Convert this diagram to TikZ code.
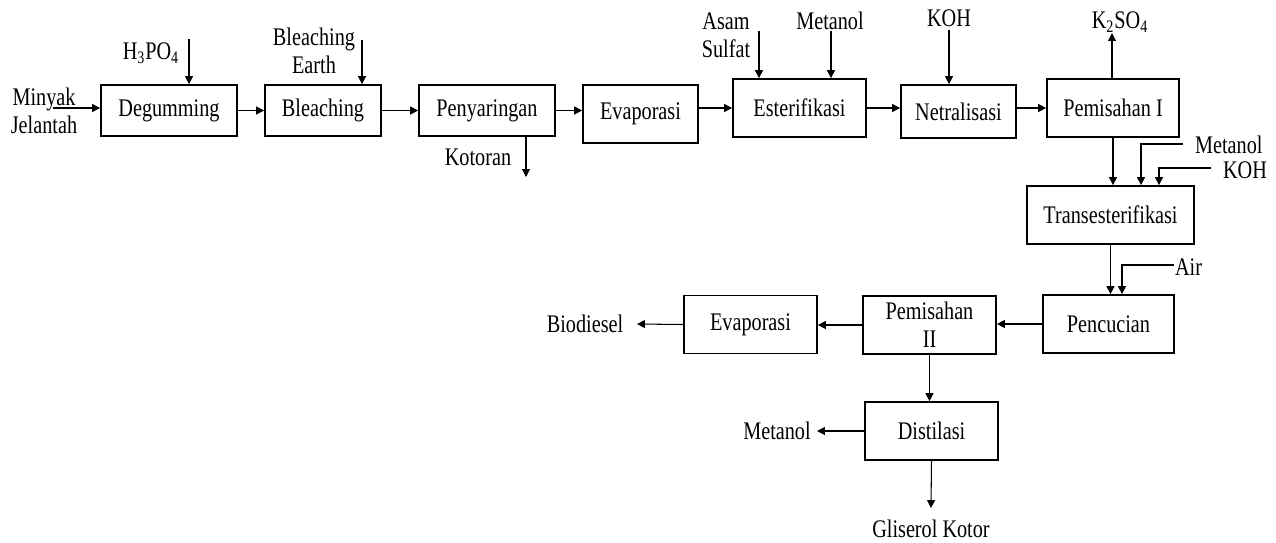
\documentclass[tikz,border=0pt]{standalone}
\usepackage{fontspec}
\setmainfont[FakeStretch=0.8]{Liberation Serif}
\usetikzlibrary{arrows.meta}

\begin{document}
\begin{tikzpicture}[x=0.02cm,y=-0.02cm,
        font=\fontsize{14.4}{16}\selectfont,
        unit/.style={draw,line width=1pt,inner sep=0pt,align=center,minimum height=1.16cm},
        txt/.style={align=center,inner sep=1pt},
        flow/.style={line width=0.6pt,-{Triangle[length=4.5pt,width=4.5pt]}}]
        \useasboundingbox (0,0) rectangle (1276,542);

        \node[unit,minimum width=2.72cm,minimum height=1.02cm] (deg)  at (169,110.5)  {Degumming};
        \node[unit,minimum width=2.32cm,minimum height=1.02cm] (bl)   at (323,110.5)  {Bleaching};
        \node[unit,minimum width=2.72cm,minimum height=1.02cm] (pen)  at (487,110.5)  {Penyaringan};
        \node[unit,minimum width=2.30cm] (eva1) at (640.5,114)  {Evaporasi};
        \node[unit,minimum width=2.66cm] (est)  at (799.5,108)  {Esterifikasi};
        \node[unit,minimum width=2.30cm,minimum height=1.06cm] (net)  at (958.5,111.5) {Netralisasi};
        \node[unit,minimum width=2.64cm] (pem1) at (1113,108)   {Pemisahan I};
        \node[unit,minimum width=3.34cm] (trans) at (1110.5,215) {Transesterifikasi};
        \node[unit,minimum width=2.62cm] (cuci) at (1108.5,324) {Pencucian};
        \node[unit,minimum width=2.66cm] (pem2) at (929.5,325)  {Pemisahan\\II};
        \node[unit,minimum width=2.66cm] (eva2) at (750.5,324.5) {Evaporasi};
        \node[unit,minimum width=2.66cm] (dist) at (931.5,431)  {Distilasi};

        \node[txt] (minyak)   at (44,111)  {Minyak\\Jelantah};
        \node[txt] (h3po4)    at (151,53)  {H\textsubscript{3}PO\textsubscript{4}};
        \node[txt] (earth)    at (314,51)  {Bleaching\\Earth};
        \node[txt] (kotoran)  at (478,157) {Kotoran};
        \node[txt] (asam)     at (726,35)  {Asam\\Sulfat};
        \node[txt] (met1)     at (830,21)  {Metanol};
        \node[txt] (koh1)     at (949,18)  {KOH};
        \node[txt] (k2so4)    at (1120,22) {K\textsubscript{2}SO\textsubscript{4}};
        \node[txt,anchor=west] (met2) at (1193,145) {Metanol};
        \node[txt,anchor=west] (koh2) at (1221,170) {KOH};
        \node[txt,anchor=west] (air)  at (1173,267) {Air};
        \node[txt] (biodiesel) at (585,324) {Biodiesel};
        \node[txt] (met3)     at (777,431) {Metanol};
        \node[txt] (gliserol) at (931,529) {Gliserol Kotor};

        \coordinate (in0)  at (53,108);
        \coordinate (in1)  at (189,39);
        \coordinate (in2)  at (362,40);
        \coordinate (out1) at (526,177);
        \coordinate (in3)  at (759,31);
        \coordinate (in4)  at (831,31);
        \coordinate (in5)  at (949,30);
        \coordinate (out2) at (1112,33);
        \coordinate (m2)   at (1183,144);
        \coordinate (m2d)  at (1141,0);
        \coordinate (k2)   at (1211,168);
        \coordinate (k2d)  at (1159,0);
        \coordinate (a2)   at (1174,265);
        \coordinate (a2d)  at (1122,0);
        \coordinate (out3) at (637,324);
        \coordinate (out4) at (817,431);
        \coordinate (out5) at (931,508);

        \path [flow] (in0) edge (in0 -| deg.west);
        \path [flow] (in1) edge (in1 |- deg.north);
        \path [flow] (deg.east) edge (bl.west);
        \path [flow] (in2) edge (in2 |- bl.north);
        \path [flow] (bl.east) edge (pen.west);
        \path [flow] (pen.east) edge (pen.east -| eva1.west);
        \path [flow] (out1 |- pen.south) edge (out1);
        \path [flow] (eva1.east |- est.west) edge (est.west);
        \path [flow] (in3) edge (in3 |- est.north);
        \path [flow] (in4) edge (in4 |- est.north);
        \path [flow] (est.east) edge (est.east -| net.west);
        \path [flow] (in5) edge (in5 |- net.north);
        \path [flow] (net.east |- pem1.west) edge (pem1.west);
        \path [flow] (out2 |- pem1.north) edge (out2);
        \path [flow] (pem1.south) edge (pem1.south |- trans.north);
        \draw [flow] (m2) -| (m2d |- trans.north);
        \draw [flow] (k2) -| (k2d |- trans.north);
        \path [flow] (trans.south) edge (trans.south |- cuci.north);
        \draw [flow] (a2) -| (a2d |- cuci.north);
        \path [flow] (cuci.west) edge (cuci.west -| pem2.east);
        \path [flow] (pem2.west) edge (pem2.west -| eva2.east);
        \path [flow] (eva2.west) edge (out3);
        \path [flow] (pem2.south) edge (pem2.south |- dist.north);
        \path [flow] (dist.west) edge (out4);
        \path [flow] (dist.south) edge (out5);
    \end{tikzpicture}
\end{document}
